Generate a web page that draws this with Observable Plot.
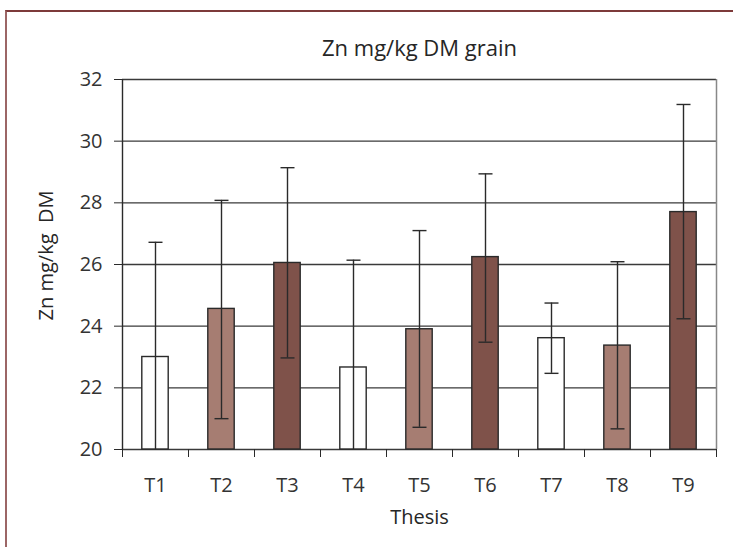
<!DOCTYPE html>
<html>
<head>
<meta charset="utf-8">
<script src="https://cdn.jsdelivr.net/npm/d3@7"></script>
<script src="https://cdn.jsdelivr.net/npm/@observablehq/plot@0.6"></script>
<style>
  html, body { margin: 0; padding: 0; background: #fff; }
  #wrap { position: relative; width: 733px; height: 547px; overflow: hidden; background: #fff; }
  #border { position: absolute; left: 5px; top: 10px; right: -4px; bottom: -4px;
            border-top: 2px solid #7d3a3a; border-left: 2px solid #9c6666; pointer-events: none; }
  #chart { position: absolute; left: 0; top: 0; }
  svg text { white-space: pre; }
</style>
</head>
<body>
<div id="wrap"><div id="chart"></div><div id="border"></div></div>
<script>
const categories = ["T1", "T2", "T3", "T4", "T5", "T6", "T7", "T8", "T9"];
const means = [23.00, 24.56, 26.05, 22.66, 23.90, 26.24, 23.61, 23.37, 27.70];
const upper = [26.72, 28.08, 29.14, 26.14, 27.10, 28.94, 24.75, 26.09, 31.19];
const lower = [19.28, 21.00, 22.97, 19.18, 20.72, 23.48, 22.47, 20.67, 24.24];
const groups = ["A", "B", "C", "A", "B", "C", "A", "B", "C"];
const yTicks = [20, 22, 24, 26, 28, 30, 32];
const title = "Zn mg/kg DM grain";
const yLabel = "Zn mg/kg  DM";
const xLabel = "Thesis";

const data = categories.map((c, i) => ({
  cat: c, i, mean: means[i], hi: upper[i], lo: lower[i], group: groups[i]
}));
const bounds = d3.range(0, categories.length + 1);
const centers = categories.map((c, i) => i + 0.5);

const capSymbol = { draw(ctx) { ctx.moveTo(-7, 0); ctx.lineTo(7, 0); } };
const FONT = "'Open Sans', Lato, sans-serif";
const FS = 20;

const chart = Plot.plot({
  width: 733,
  height: 547,
  marginLeft: 122,
  marginRight: 17,
  marginTop: 79,
  marginBottom: 98,
  style: { fontFamily: FONT, fontSize: FS + "px", color: "#333", background: "transparent", overflow: "visible" },
  x: { type: "linear", domain: [0, categories.length], axis: null },
  y: { domain: [20, 32], axis: null },
  color: { domain: ["A", "B", "C"], range: ["#ffffff", "#a67d72", "#7f524a"] },
  marks: [
    Plot.ruleY(yTicks, { stroke: "#3a3a3a", strokeWidth: 1.4 }),
    Plot.ruleX([categories.length], { stroke: "#888", strokeWidth: 1.5 }),
    Plot.rect(data, {
      x1: d => d.i + 0.3, x2: d => d.i + 0.7, y1: 20, y2: "mean",
      fill: "group", stroke: "#2a2a2a", strokeWidth: 1.4
    }),
    Plot.ruleX(data, {
      x: d => d.i + 0.5, y1: d => Math.max(d.lo, 20), y2: "hi",
      stroke: "#2a2a2a", strokeWidth: 1.4
    }),
    Plot.dot(data, { x: d => d.i + 0.5, y: "hi", symbol: capSymbol, stroke: "#2a2a2a", strokeWidth: 1.4 }),
    Plot.dot(data.filter(d => d.lo >= 20), { x: d => d.i + 0.5, y: "lo", symbol: capSymbol, stroke: "#2a2a2a", strokeWidth: 1.4 }),
    Plot.ruleX([0], { stroke: "#2a2a2a", strokeWidth: 1.4 }),
    Plot.axisY(yTicks, { tickSize: 8, tickPadding: 12, label: null, fontSize: FS, stroke: "#2a2a2a", fill: "#333" }),
    Plot.axisX(bounds, { tickSize: 8, tickFormat: () => "", label: null, stroke: "#2a2a2a" }),
    Plot.axisX(centers, { tickSize: 0, tickPadding: 28, tickFormat: v => categories[Math.floor(v)], label: null, fontSize: FS, fill: "#333" }),
    Plot.text([title], { frameAnchor: "top", dy: -39, fontSize: 22, fill: "#262626" }),
    Plot.text([yLabel], { frameAnchor: "left", textAnchor: "middle", dx: -76, dy: -9, rotate: -90, fontSize: FS, fill: "#262626" }),
    Plot.text([xLabel], { frameAnchor: "bottom", dy: 74, fontSize: FS, fill: "#262626" })
  ]
});
document.getElementById("chart").appendChild(chart);
</script>
</body>
</html>
